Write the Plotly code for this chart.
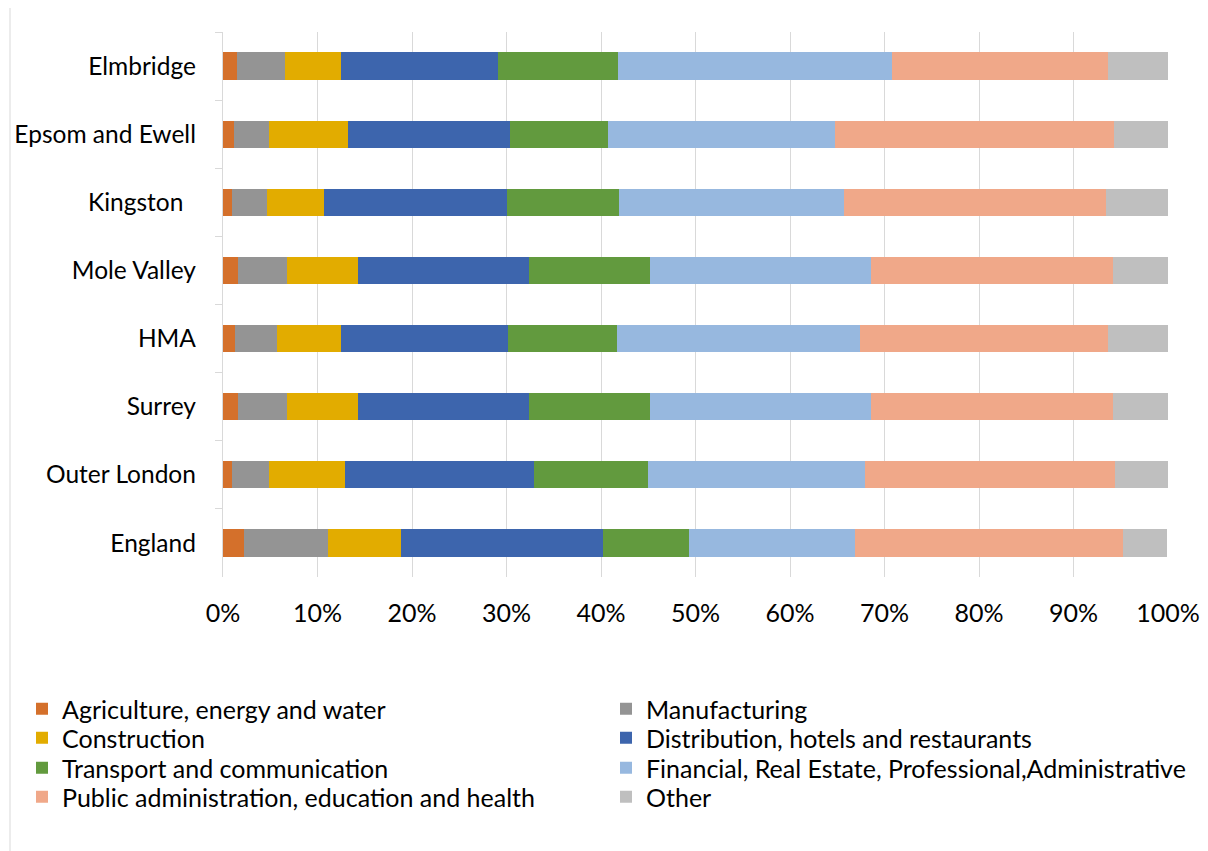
import plotly.graph_objects as go

areas = ["Elmbridge", "Epsom and Ewell", "Kingston\u00a0\u00a0", "Mole Valley", "HMA", "Surrey", "Outer London", "England"]

sectors = [
    "Agriculture, energy and water",
    "Manufacturing",
    "Construction",
    "Distribution, hotels and restaurants",
    "Transport and communication",
    "Financial, Real Estate, Professional,Administrative",
    "Public administration, education and health",
    "Other",
]

agriculture = [1.5, 1.2, 0.95, 1.55, 1.3, 1.55, 0.9, 2.2]
manufacturing = [5.1, 3.7, 3.7, 5.2, 4.4, 5.2, 3.95, 8.9]
construction = [5.9, 8.35, 6.0, 7.5, 6.8, 7.5, 8.05, 7.7]
distribution = [16.55, 17.15, 19.35, 18.1, 17.7, 18.1, 20.0, 21.4]
transport = [12.8, 10.3, 11.9, 12.8, 11.5, 12.8, 12.1, 9.1]
financial = [28.95, 24.1, 23.85, 23.4, 25.75, 23.4, 22.9, 17.6]
public = [22.85, 29.45, 27.7, 25.65, 26.25, 25.65, 26.45, 28.3]
other = [6.4, 5.8, 6.55, 5.75, 6.3, 5.75, 5.65, 4.7]

series = [agriculture, manufacturing, construction, distribution, transport, financial, public, other]
colors = ["#D4702B", "#949494", "#E2AC00", "#3D65AD", "#629A3E", "#97B8DF", "#F0A889", "#BFBFBF"]

# page offset (browser body margin)
OFF = 8
W, H = 1200, 843
L, R, T, B = 223 - OFF, 1168 - OFF, 32 - OFF, 577 - OFF
pw, ph = R - L, B - T


def px_x(sx):
    return (sx - OFF - L) / pw


def px_y(sy):
    return (B - (sy - OFF)) / ph


legend_cols = [22, 606]
legend_rows = [709, 738, 768, 797]

fig = go.Figure()
layout_legends = {}
for i, (name, vals, col) in enumerate(zip(sectors, series, colors)):
    lid = "legend" if i == 0 else f"legend{i + 1}"
    fig.add_trace(go.Bar(
        y=areas, x=[v / 100 for v in vals], name=name, orientation="h",
        marker=dict(color=col, line=dict(width=0)), legend=lid, showlegend=True,
    ))
    layout_legends[lid] = dict(
        x=px_x(legend_cols[i % 2]), y=px_y(legend_rows[i // 2]),
        xanchor="left", yanchor="middle",
        font=dict(size=25), itemwidth=30, bgcolor="rgba(0,0,0,0)",
    )

fig.update_layout(
    width=W, height=H, showlegend=True,
    barmode="stack", bargap=0.6,
    plot_bgcolor="white", paper_bgcolor="white",
    margin=dict(l=L, r=W - R, t=T, b=H - B, autoexpand=False),
    font=dict(family="Lato, Carlito, Calibri, sans-serif", size=24.5, color="#000000"),
    xaxis=dict(
        range=[0, 1], dtick=0.1, tickformat=".0%",
        showgrid=True, gridcolor="#D9D9D9", gridwidth=1.3,
        zeroline=False, showline=False, ticks="",
        tickfont=dict(size=25),
        ticklabelstandoff=19, automargin=False,
    ),
    yaxis=dict(
        categoryorder="array", categoryarray=areas, autorange="reversed",
        showline=True, linecolor="#D9D9D9", linewidth=1.3,
        ticks="outside", tickson="boundaries", ticklen=7, tickcolor="#D9D9D9",
        showgrid=False, ticklabelstandoff=21, automargin=False,
    ),
    shapes=[dict(
        type="rect", xref="paper", yref="paper",
        x0=px_x(10), x1=px_x(1230),
        y0=px_y(880), y1=px_y(6),
        line=dict(color="#D9D9D9", width=1), fillcolor="rgba(0,0,0,0)", layer="below",
    )],
    **layout_legends,
)

fig.write_html("out.html")
